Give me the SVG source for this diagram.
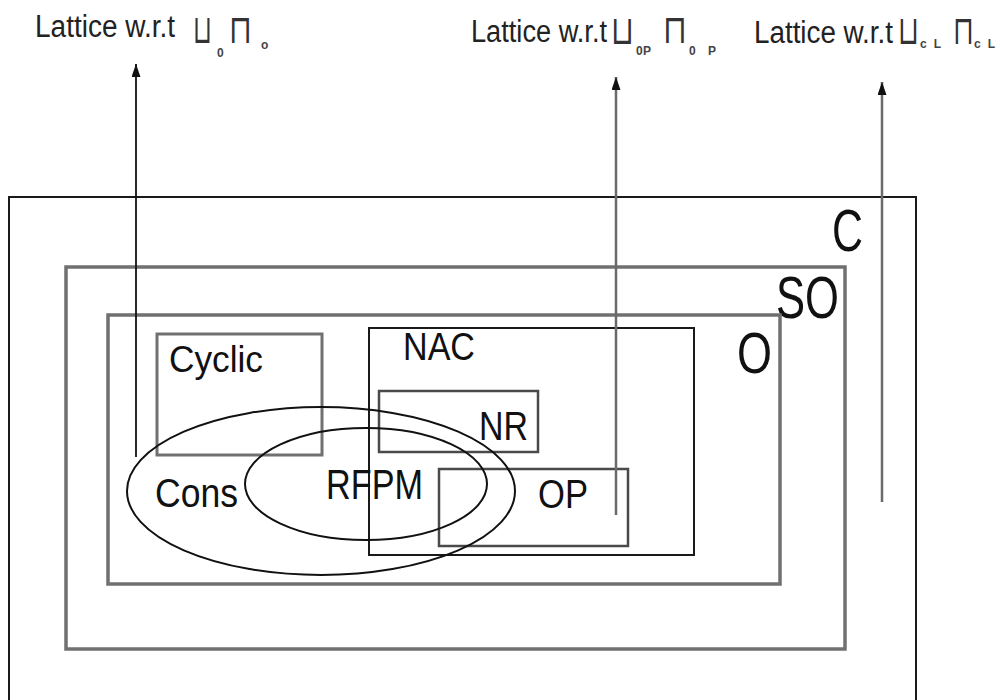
<svg xmlns="http://www.w3.org/2000/svg" width="1000" height="700" viewBox="0 0 1000 700">
<style>
.lbl{font-family:"Liberation Sans",Arial,sans-serif;fill:#111;}
.ttl{font-family:"Liberation Sans",Arial,sans-serif;fill:#222;font-size:31px;}
.sym{font-family:"DejaVu Sans",sans-serif;fill:#333;font-size:40px;}
.sub{font-family:"Liberation Sans",Arial,sans-serif;fill:#444;font-size:12px;font-weight:bold;}
.bk{fill:none;stroke:#1a1a1a;stroke-width:2;}
.gr{fill:none;stroke:#707070;stroke-width:3.5;}
.gm{fill:none;stroke:#4a4a4a;stroke-width:2.5;}
.el{fill:none;stroke:#111;stroke-width:2;}
</style>
<defs>
<marker id="ah" viewBox="0 0 13 9" refX="13" refY="4.5" markerWidth="13" markerHeight="9" markerUnits="userSpaceOnUse" orient="auto">
<path d="M0,0 L13,4.5 L0,9 z" fill="#111"/>
</marker>
</defs>
<rect width="1000" height="700" fill="#fff"/>
<g id="C"><rect class="bk" x="9" y="197" width="907" height="506"/><text class="lbl" x="832" y="251" font-size="60" textLength="31" lengthAdjust="spacingAndGlyphs">C</text></g>
<g id="SO"><rect class="gr" x="66" y="267" width="779" height="382"/><text class="lbl" x="776" y="318" font-size="60" textLength="63" lengthAdjust="spacingAndGlyphs">SO</text></g>
<g id="O"><rect class="gr" x="108" y="315" width="672" height="269"/><text class="lbl" x="737" y="373" font-size="57" textLength="35" lengthAdjust="spacingAndGlyphs">O</text></g>
<g id="Cyclic"><rect class="gr" style="stroke-width:3" x="157" y="334" width="165" height="121"/><text class="lbl" x="169" y="372" font-size="37" textLength="94" lengthAdjust="spacingAndGlyphs">Cyclic</text></g>
<g id="NAC"><rect class="bk" x="369" y="328" width="325" height="227"/><text class="lbl" x="403" y="360" font-size="39" textLength="72" lengthAdjust="spacingAndGlyphs">NAC</text></g>
<g id="NR"><rect class="gm" x="379" y="391" width="159" height="61"/><text class="lbl" x="479" y="440" font-size="41" textLength="49" lengthAdjust="spacingAndGlyphs">NR</text></g>
<g id="OP"><rect class="gm" x="439" y="469" width="189" height="77"/><text class="lbl" x="538" y="508" font-size="41" textLength="50" lengthAdjust="spacingAndGlyphs">OP</text></g>
<g id="Cons"><ellipse class="el" cx="321" cy="491" rx="194" ry="84"/><text class="lbl" x="155" y="507" font-size="40" textLength="83" lengthAdjust="spacingAndGlyphs">Cons</text></g>
<g id="RFPM"><ellipse class="el" cx="366" cy="484" rx="121" ry="56"/><text class="lbl" x="326" y="499" font-size="43" textLength="97" lengthAdjust="spacingAndGlyphs">RFPM</text></g>
<g id="connectors">
<line x1="136" y1="457" x2="136" y2="64" stroke="#111" stroke-width="1.8" marker-end="url(#ah)"/>
<line x1="616" y1="515" x2="616" y2="77" stroke="#6a6a6a" stroke-width="2.5" marker-end="url(#ah)"/>
<line x1="882" y1="502" x2="882" y2="82" stroke="#6a6a6a" stroke-width="2.5" marker-end="url(#ah)"/>
</g>
<g id="title1">
<text class="ttl" x="35" y="37"><tspan textLength="140" lengthAdjust="spacingAndGlyphs">Lattice w.r.t</tspan><tspan class="sym" x="193" y="43" textLength="19" lengthAdjust="spacingAndGlyphs">⊔</tspan><tspan class="sub" x="217" y="57">0</tspan><tspan class="sym" x="229" y="43" textLength="23" lengthAdjust="spacingAndGlyphs">⊓</tspan><tspan class="sub" x="261" y="49" font-size="10">o</tspan></text>
</g>
<g id="title2">
<text class="ttl" x="471" y="42"><tspan textLength="136" lengthAdjust="spacingAndGlyphs">Lattice w.r.t</tspan><tspan class="sym" x="611" y="44" textLength="23" lengthAdjust="spacingAndGlyphs">⊔</tspan><tspan class="sub" x="636" y="55" font-size="11" textLength="15" lengthAdjust="spacing">0P</tspan><tspan class="sym" x="663" y="43" textLength="24" lengthAdjust="spacingAndGlyphs">⊓</tspan><tspan class="sub" x="689" y="55" font-size="11" textLength="27" lengthAdjust="spacing">0P</tspan></text>
</g>
<g id="title3">
<text class="ttl" x="754" y="43"><tspan textLength="139" lengthAdjust="spacingAndGlyphs">Lattice w.r.t</tspan><tspan class="sym" x="898" y="44" textLength="21" lengthAdjust="spacingAndGlyphs">⊔</tspan><tspan class="sub" x="920" y="48" font-size="13" textLength="21" lengthAdjust="spacing">cL</tspan><tspan class="sym" x="953" y="44" textLength="21" lengthAdjust="spacingAndGlyphs">⊓</tspan><tspan class="sub" x="974" y="48" font-size="13" textLength="21" lengthAdjust="spacing">cL</tspan></text>
</g>
</svg>
